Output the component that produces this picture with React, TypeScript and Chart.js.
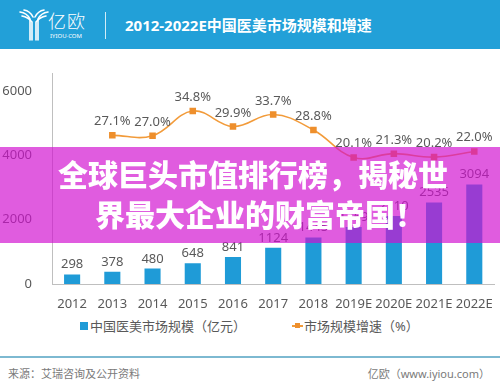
import React, { useEffect, useRef } from "react";
import { Chart, registerables } from "chart.js";

Chart.register(...registerables);

const years = ["2012", "2013", "2014", "2015", "2016", "2017", "2018", "2019E", "2020E", "2021E", "2022E"];
const marketSize = [298, 378, 480, 648, 841, 1124, 1445, 1769, 2110, 2535, 3094];
const growthRate: (number | null)[] = [null, 27.1, 27.0, 34.8, 29.9, 33.7, 28.8, 20.1, 21.3, 20.2, 22.0];
const yTicks = [0, 2000, 4000, 6000];

const FONT = "'Noto Sans', 'Noto Sans CJK SC', sans-serif";
const GREY = "#595959";
const BLUE = "#1f9bd7";
const ORANGE = "#f29b3a";

const labelPlugin = {
  id: "valueLabels",
  afterDatasetsDraw(chart: any) {
    const ctx = chart.ctx;
    ctx.save();
    ctx.font = `13px ${FONT}`;
    ctx.fillStyle = GREY;
    ctx.textAlign = "center";
    ctx.textBaseline = "alphabetic";
    const barMeta = chart.getDatasetMeta(0);
    barMeta.data.forEach((el: any, i: number) => {
      ctx.fillText(String(marketSize[i]), el.x, el.y - 6);
    });
    const lineMeta = chart.getDatasetMeta(1);
    lineMeta.data.forEach((el: any, i: number) => {
      const v = growthRate[i];
      if (v === null || v === undefined) return;
      ctx.fillText(v.toFixed(1) + "%", el.x, el.y - 10);
    });
    ctx.restore();
  },
};

function ChartCanvas() {
  const ref = useRef<HTMLCanvasElement | null>(null);
  useEffect(() => {
    if (!ref.current) return;
    const chart = new Chart(ref.current, {
      type: "bar",
      data: {
        labels: years,
        datasets: [
          {
            type: "bar",
            label: "中国医美市场规模（亿元）",
            data: marketSize,
            backgroundColor: BLUE,
            barPercentage: 0.4,
            categoryPercentage: 1,
            yAxisID: "y",
            order: 2,
          },
          {
            type: "line",
            label: "市场规模增速（%）",
            data: growthRate,
            borderColor: ORANGE,
            backgroundColor: ORANGE,
            borderWidth: 1.6,
            pointStyle: "rect",
            pointRadius: 3.5,
            pointBackgroundColor: "#ee8f2c",
            pointBorderColor: "#ee8f2c",
            tension: 0.4,
            yAxisID: "y1",
            order: 1,
          } as any,
        ],
      },
      options: {
        responsive: false,
        animation: false,
        devicePixelRatio: 1,
        layout: { padding: { top: 1, right: 5, left: 0, bottom: 0 } },
        plugins: {
          legend: { display: false },
          tooltip: { enabled: false },
          title: { display: false },
        },
        scales: {
          x: {
            grid: { display: false },
            border: { display: true, color: "#bfbfbf", width: 1 },
            ticks: { color: GREY, font: { size: 13, family: FONT }, padding: 4, maxRotation: 0, autoSkip: false },
            afterFit(scale: any) {
              scale.height = 31;
            },
          },
          y: {
            min: 0,
            max: 6530,
            grid: { display: false },
            border: { display: true, color: "#bfbfbf", width: 1 },
            ticks: {
              color: GREY,
              font: { size: 13, family: FONT },
              padding: 12,
              callback: (v: any) => String(v),
            },
            afterBuildTicks(scale: any) {
              scale.ticks = yTicks.map((v) => ({ value: v }));
            },
            afterFit(scale: any) {
              scale.width = 52;
            },
          },
          y1: {
            display: false,
            min: -20,
            max: 46.6,
            position: "right",
          },
        },
      } as any,
      plugins: [labelPlugin],
    });
    return () => chart.destroy();
  }, []);
  return <canvas ref={ref} width={500} height={261} style={{ position: "absolute", left: 0, top: 54, width: 500, height: 261 }} />;
}

export default function App() {
  return (
    <div style={{ position: "absolute", left: 0, top: 0, width: 500, height: 390, background: "#fff", overflow: "hidden", fontFamily: FONT }}>
      {/* header */}
      <div style={{ position: "absolute", left: 0, top: 0, width: 500, height: 49, background: "#22a0d8" }} />
      <svg width={30} height={32} style={{ position: "absolute", left: 19, top: 9 }} viewBox="0 0 30 32">
        <g fill="none" stroke="#fff" strokeWidth={1.6} strokeLinecap="round">
          <path d="M1 3 Q8 4 11 10 L11 31" />
          <path d="M3 7 Q9 8 13 13 L13 31" />
          <path d="M5 1 Q11 2 14 8" />
          <path d="M29 3 Q22 4 19 10 L19 31" />
          <path d="M27 7 Q21 8 17 13 L17 31" />
          <path d="M25 1 Q19 2 16 8" />
        </g>
      </svg>
      <div style={{ position: "absolute", left: 48, top: 10, color: "#fff", fontSize: 18, fontWeight: 300, lineHeight: "22px", whiteSpace: "nowrap", letterSpacing: 1 }}>亿欧</div>
      <div style={{ position: "absolute", left: 50, top: 32, color: "#fff", fontSize: 6, lineHeight: "8px", whiteSpace: "nowrap" }}>IYIOU·COM</div>
      <div style={{ position: "absolute", left: 105, top: 12, width: 1, height: 27, background: "rgba(255,255,255,0.8)" }} />
      <div style={{ position: "absolute", left: 125, top: 14, color: "#fff", fontSize: 15, fontWeight: 700, lineHeight: "22px", whiteSpace: "nowrap" }}>
        2012-2022E中国医美市场规模和增速
      </div>

      <ChartCanvas />

      {/* legend */}
      <div style={{ position: "absolute", left: 80, top: 322, width: 8, height: 8, background: BLUE }} />
      <div style={{ position: "absolute", left: 90, top: 317, color: GREY, fontSize: 13, lineHeight: "18px", whiteSpace: "nowrap" }}>中国医美市场规模（亿元）</div>
      <div style={{ position: "absolute", left: 292, top: 325, width: 11, height: 2, background: ORANGE }} />
      <div style={{ position: "absolute", left: 295, top: 323, width: 5, height: 5, background: "#ee8f2c" }} />
      <div style={{ position: "absolute", left: 304, top: 317, color: GREY, fontSize: 13, lineHeight: "18px", whiteSpace: "nowrap" }}>市场规模增速（%）</div>

      {/* footer */}
      <div style={{ position: "absolute", left: 0, top: 356, width: 500, height: 2, background: "#7db9d1" }} />
      <div style={{ position: "absolute", left: 8, top: 366, color: "#7a7a7a", fontSize: 11, lineHeight: "16px", whiteSpace: "nowrap" }}>来源：艾瑞咨询及公开资料</div>
      <div style={{ position: "absolute", right: 10, top: 366, color: "#7a7a7a", fontSize: 11, lineHeight: "16px", whiteSpace: "nowrap" }}>亿欧（www.iyiou.com）</div>

      {/* overlay banner */}
      <div style={{ position: "absolute", left: 0, top: 147, width: 500, height: 96, background: "rgba(210, 15, 208, 0.68)" }} />
      <div style={{ position: "absolute", left: 58, top: 153, color: "#fff", fontSize: 30, fontWeight: 900, lineHeight: "40px", whiteSpace: "nowrap", fontFamily: "'Noto Sans CJK SC', sans-serif" }}>
        全球巨头市值排行榜，揭秘世
      </div>
      <div style={{ position: "absolute", left: 95, top: 193, color: "#fff", fontSize: 30, fontWeight: 900, lineHeight: "40px", whiteSpace: "nowrap", fontFamily: "'Noto Sans CJK SC', sans-serif" }}>
        界最大企业的财富帝国！
      </div>
    </div>
  );
}
